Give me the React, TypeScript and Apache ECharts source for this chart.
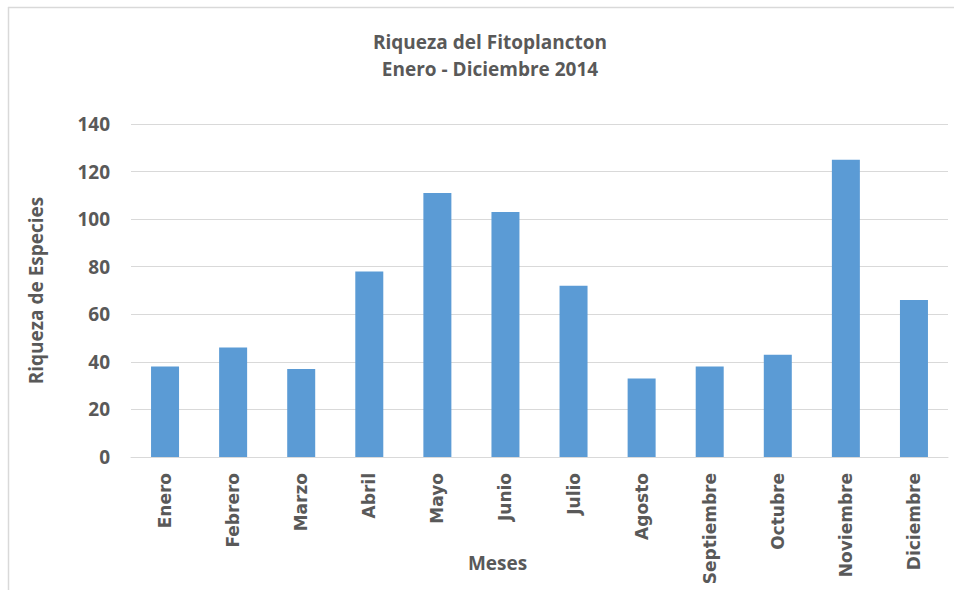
import React, { useEffect, useRef } from "react";
import * as echarts from "echarts";

const months = ["Enero", "Febrero", "Marzo", "Abril", "Mayo", "Junio", "Julio", "Agosto", "Septiembre", "Octubre", "Noviembre", "Diciembre"];
const riqueza = [38, 46, 37, 78, 111, 103, 72, 33, 38, 43, 125, 66];
const titleLines = ["Riqueza del Fitoplancton", "Enero - Diciembre 2014"];
const yName = "Riqueza de Especies";
const xName = "Meses";

const FONT = "'Open Sans', sans-serif";
const GRAY = "#595959";

export default function App() {
  const ref = useRef<HTMLDivElement>(null);
  useEffect(() => {
    if (!ref.current) return;
    const chart = echarts.init(ref.current, null, { renderer: "svg" });
    chart.setOption({
      animation: false,
      backgroundColor: "#ffffff",
      title: {
        text: titleLines.join("\n"),
        left: 485,
        top: 23,
        textAlign: "center",
        textStyle: { fontFamily: FONT, fontSize: 19, fontWeight: "bold", color: GRAY, lineHeight: 27 },
      },
      graphic: [
        { type: "line", shape: { x1: 8, y1: 7.5, x2: 954, y2: 7.5 }, style: { stroke: "#d9d9d9", lineWidth: 1.5 } },
        { type: "line", shape: { x1: 8.5, y1: 7, x2: 8.5, y2: 590 }, style: { stroke: "#d9d9d9", lineWidth: 1.5 } },
      ],
      grid: { left: 131, right: 6, top: 124, bottom: 133, containLabel: false, outerBoundsMode: "none" },
      xAxis: {
        type: "category",
        data: months,
        axisLine: { lineStyle: { color: "#d9d9d9", width: 1 } },
        axisTick: { show: false },
        axisLabel: { rotate: 90, fontFamily: "'DejaVu Sans', sans-serif", fontSize: 17, fontWeight: "bold", color: GRAY, margin: 16, interval: 0 },
        name: xName,
        nameLocation: "middle",
        nameGap: 96,
        nameMoveOverlap: false,
        nameTextStyle: { fontFamily: FONT, fontSize: 19, fontWeight: "bold", color: GRAY, padding: [0, 84, 0, 0] },
      },
      yAxis: {
        type: "value",
        min: 0,
        max: 140,
        interval: 20,
        axisLine: { show: false },
        axisTick: { show: false },
        splitLine: { lineStyle: { color: "#d9d9d9", width: 1 } },
        axisLabel: { fontFamily: FONT, fontSize: 19, fontWeight: "bold", color: GRAY, margin: 21 },
        name: yName,
        nameLocation: "middle",
        nameGap: 86,
        nameTextStyle: { fontFamily: FONT, fontSize: 19, fontWeight: "bold", color: GRAY },
      },
      series: [
        {
          type: "bar",
          data: riqueza,
          barWidth: 28,
          itemStyle: { color: "#5b9bd5" },
        },
      ],
    });
    return () => chart.dispose();
  }, []);
  return <div ref={ref} style={{ position: "absolute", left: 0, top: 0, width: 954, height: 590 }} />;
}
